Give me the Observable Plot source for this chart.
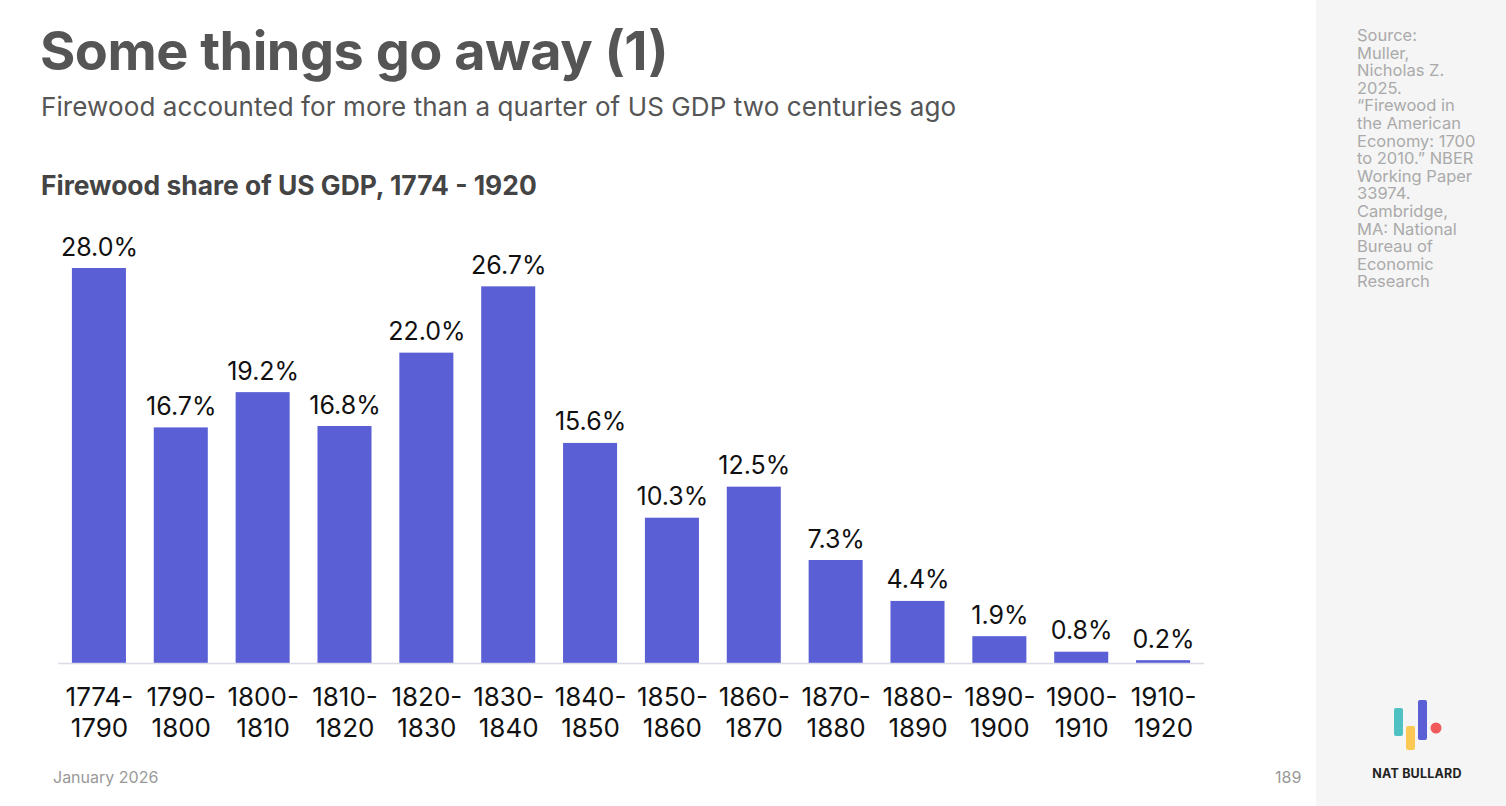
<!DOCTYPE html>
<html>
<head>
<meta charset="utf-8">
<script src="https://cdn.jsdelivr.net/npm/d3@7"></script>
<script src="https://cdn.jsdelivr.net/npm/@observablehq/plot@0.6"></script>
<style>
  html, body { margin: 0; padding: 0; background: #fff; }
  #page { position: relative; width: 1506px; height: 806px; overflow: hidden; font-family: Inter, "Noto Sans", sans-serif; background: #fff; }
  #title { position: absolute; left: 40px; top: 18px; font-size: 54px; font-weight: 700; color: #555; letter-spacing: -0.5px; white-space: nowrap; }
  #subtitle { position: absolute; left: 41px; top: 91px; font-size: 26px; color: #555; white-space: nowrap; letter-spacing: 0.1px; }
  #charttitle { position: absolute; left: 41px; top: 169px; font-size: 26.4px; font-weight: 700; color: #444; white-space: nowrap; }
  #chart { position: absolute; left: 0; top: 210px; }
  #side { position: absolute; left: 1316px; top: 0; width: 190px; height: 806px; background: #f5f5f5; }
  #source { position: absolute; left: 41px; top: 27px; width: 140px; font-size: 16.5px; line-height: 17.6px; color: #aaa; white-space: nowrap; }
  #date { position: absolute; left: 53px; top: 767px; font-size: 16px; color: #999; }
  #pagenum { position: absolute; left: 1275px; top: 767px; font-size: 16px; color: #999; }
  #logo { position: absolute; left: 78px; top: 698px; }
  #brand { position: absolute; left: 0; width: 202px; text-align: center; top: 766px; font-size: 12.5px; font-weight: 700; color: #222; letter-spacing: 0.2px; }
</style>
</head>
<body>
<div id="page">
  <div id="title">Some things go away (1)</div>
  <div id="subtitle">Firewood accounted for more than a quarter of US GDP two centuries ago</div>
  <div id="charttitle">Firewood share of US GDP, 1774 - 1920</div>
  <div id="chart"></div>
  <div id="date">January 2026</div>
  <div id="pagenum">189</div>
  <div id="side">
    <div id="source">Source:<br>Muller,<br>Nicholas Z.<br>2025.<br>“Firewood in<br>the American<br>Economy: 1700<br>to 2010.” NBER<br>Working Paper<br>33974.<br>Cambridge,<br>MA: National<br>Bureau of<br>Economic<br>Research</div>
    <svg id="logo" width="50" height="56" viewBox="0 0 50 56">
      <rect x="0" y="10" width="9" height="28" rx="2" fill="#4fc1c3"></rect>
      <rect x="12" y="28" width="9" height="24" rx="2" fill="#fcc954"></rect>
      <rect x="24" y="2" width="9" height="40" rx="2" fill="#5a5fd6"></rect>
      <circle cx="42" cy="30" r="5.5" fill="#f05a5a"></circle>
    </svg>
    <div id="brand">NAT BULLARD</div>
  </div>
</div>
<script>
const periodStart = ["1774", "1790", "1800", "1810", "1820", "1830", "1840", "1850", "1860", "1870", "1880", "1890", "1900", "1910"];
const periodEnd   = ["1790", "1800", "1810", "1820", "1830", "1840", "1850", "1860", "1870", "1880", "1890", "1900", "1910", "1920"];
const firewoodShare = [28.0, 16.7, 19.2, 16.8, 22.0, 26.7, 15.6, 10.3, 12.5, 7.3, 4.4, 1.9, 0.8, 0.2];

const data = periodStart.map((s, i) => ({
  period: s,
  label: s + "-\n" + periodEnd[i],
  value: firewoodShare[i]
}));
const labelOf = new Map(data.map(d => [d.period, d.label]));

const chart = Plot.plot({
  width: 1316,
  height: 540,
  marginLeft: 58,
  marginRight: 112,
  marginTop: 58,
  marginBottom: 87,
  style: { fontFamily: "Inter, 'Noto Sans', sans-serif", background: "transparent", color: "#111" },
  x: { domain: periodStart, paddingInner: 0.34, paddingOuter: 0.17, round: false, axis: null, label: null },
  y: { domain: [0, 28], axis: null },
  marks: [
    Plot.barY(data, { x: "period", y: "value", fill: "#5a5fd6" }),
    Plot.ruleY([0], { stroke: "#dcdce6", strokeWidth: 1.5 }),
    Plot.text(data, { x: "period", y: "value", text: d => d.value.toFixed(1) + "%", dy: -13, lineAnchor: "bottom", fontSize: 25, fill: "#111" }),
    Plot.axisX({ tickSize: 0, tickPadding: 21, fontSize: 26, lineHeight: 1.17, label: null, tickFormat: d => labelOf.get(d), fill: "#111" })
  ]
});
document.getElementById("chart").appendChild(chart);
</script>
</body>
</html>
